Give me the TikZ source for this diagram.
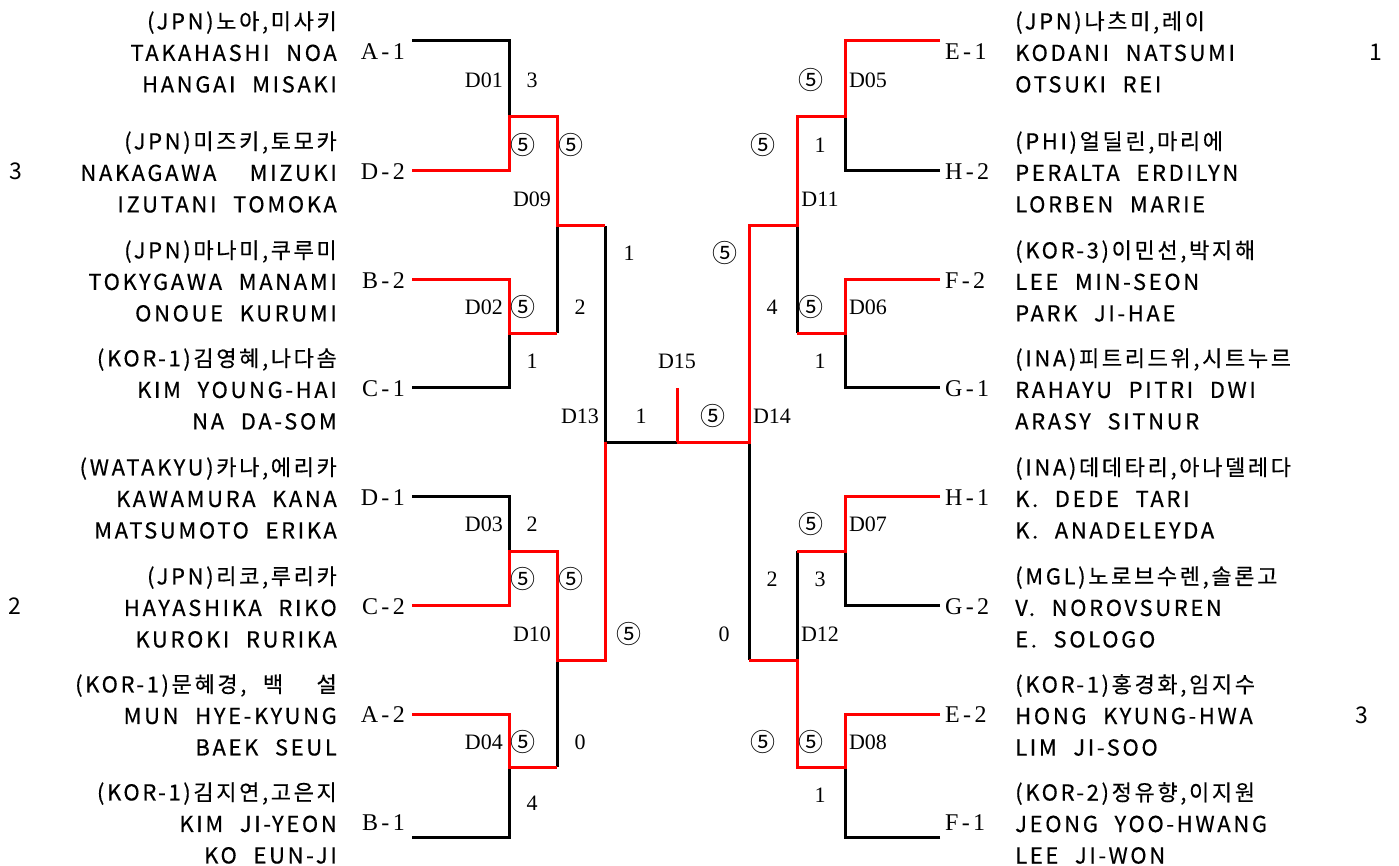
\documentclass[tikz,border=0pt]{standalone}
\usepackage{fontspec}
\usepackage{tikz}
\newfontfamily\krfont[LetterSpace=12,WordSpace=2.2,FakeBold=0.4]{Noto Sans CJK KR}
\newfontfamily\numfont{Noto Sans CJK KR}
\newfontfamily\serfont{Liberation Serif}
\newfontfamily\seedfont[LetterSpace=14]{Liberation Serif}

\begin{document}
\begin{tikzpicture}[x=1pt,y=-1pt,
  win/.style={draw=red,line width=3pt},
  lose/.style={draw=black,line width=3pt},
  team/.style={font=\krfont\fontsize{22}{31.5}\selectfont,inner sep=0pt},
  seed/.style={font=\seedfont\fontsize{24}{24}\selectfont,inner sep=0pt},
  match/.style={font=\serfont\fontsize{22}{22}\selectfont,inner sep=0pt},
  sets/.style={font=\numfont\fontsize{25}{25}\selectfont,inner sep=0pt},
  big/.style={font=\numfont\fontsize{23}{23}\selectfont,inner sep=0pt}]
\useasboundingbox (0,0) rectangle (1399,866);

% left teams
\node [team,anchor=east,align=right] (tA1) at (337,52) {(JPN)노아,미사키\\TAKAHASHI NOA\\HANGAI MISAKI};
\node [team,anchor=east,align=right] (tD2) at (337,172) {(JPN)미즈키,토모카\\NAKAGAWA\ \ MIZUKI\\IZUTANI TOMOKA};
\node [team,anchor=east,align=right] (tB2) at (337,281) {(JPN)마나미,쿠루미\\TOKYGAWA MANAMI\\ONOUE KURUMI};
\node [team,anchor=east,align=right] (tC1) at (337,389) {(KOR-1)김영혜,나다솜\\KIM YOUNG-HAI\\NA DA-SOM};
\node [team,anchor=east,align=right] (tD1) at (337,498) {(WATAKYU)카나,에리카\\KAWAMURA KANA\\MATSUMOTO ERIKA};
\node [team,anchor=east,align=right] (tC2) at (337,607) {(JPN)리코,루리카\\HAYASHIKA RIKO\\KUROKI RURIKA};
\node [team,anchor=east,align=right] (tA2) at (337,715) {(KOR-1)문혜경, 백\ \ 설\\MUN HYE-KYUNG\\BAEK SEUL};
\node [team,anchor=east,align=right] (tB1) at (337,823) {(KOR-1)김지연,고은지\\KIM JI-YEON\\KO EUN-JI};

% right teams
\node [team,anchor=west,align=left] (tE1) at (1015,52) {(JPN)나츠미,레이\\KODANI NATSUMI\\OTSUKI REI};
\node [team,anchor=west,align=left] (tH2) at (1015,172) {(PHI)얼딜린,마리에\\PERALTA ERDILYN\\LORBEN MARIE};
\node [team,anchor=west,align=left] (tF2) at (1015,281) {(KOR-3)이민선,박지해\\LEE MIN-SEON\\PARK JI-HAE};
\node [team,anchor=west,align=left] (tG1) at (1015,389) {(INA)피트리드위,시트누르\\RAHAYU PITRI DWI\\ARASY SITNUR};
\node [team,anchor=west,align=left] (tH1) at (1015,498) {(INA)데데타리,아나델레다\\K. DEDE TARI\\K. ANADELEYDA};
\node [team,anchor=west,align=left] (tG2) at (1015,607) {(MGL)노로브수렌,솔론고\\V. NOROVSUREN\\E. SOLOGO};
\node [team,anchor=west,align=left] (tE2) at (1015,715) {(KOR-1)홍경화,임지수\\HONG KYUNG-HWA\\LIM JI-SOO};
\node [team,anchor=west,align=left] (tF1) at (1015,823) {(KOR-2)정유향,이지원\\JEONG YOO-HWANG\\LEE JI-WON};

% seeds
\node [seed,anchor=east] (sA1) at (405,52) {A-1};
\node [seed,anchor=east] (sD2) at (405,172) {D-2};
\node [seed,anchor=east] (sB2) at (405,281) {B-2};
\node [seed,anchor=east] (sC1) at (405,389) {C-1};
\node [seed,anchor=east] (sD1) at (405,498) {D-1};
\node [seed,anchor=east] (sC2) at (405,607) {C-2};
\node [seed,anchor=east] (sA2) at (405,715) {A-2};
\node [seed,anchor=east] (sB1) at (405,823) {B-1};
\node [seed,anchor=west] (sE1) at (945,52) {E-1};
\node [seed,anchor=west] (sH2) at (945,172) {H-2};
\node [seed,anchor=west] (sF2) at (945,281) {F-2};
\node [seed,anchor=west] (sG1) at (945,389) {G-1};
\node [seed,anchor=west] (sH1) at (945,498) {H-1};
\node [seed,anchor=west] (sG2) at (945,607) {G-2};
\node [seed,anchor=west] (sE2) at (945,715) {E-2};
\node [seed,anchor=west] (sF1) at (945,823) {F-1};

% ranks
\node [big] (rL1) at (16,171) {3};
\node [big] (rL2) at (15,606) {2};
\node [big] (rR1) at (1376,52) {1};
\node [big] (rR2) at (1362,715) {3};

% line ends and joints
\coordinate (a1) at (412,41);  \coordinate (d2) at (412,171);
\coordinate (b2) at (412,280); \coordinate (c1) at (412,387);
\coordinate (d1) at (412,496); \coordinate (c2) at (412,605);
\coordinate (a2) at (412,714); \coordinate (b1) at (412,837);
\coordinate (e1) at (940,41);  \coordinate (h2) at (940,171);
\coordinate (f2) at (940,280); \coordinate (g1) at (940,387);
\coordinate (h1) at (940,496); \coordinate (g2) at (940,605);
\coordinate (e2) at (940,714); \coordinate (f1) at (940,837);
\coordinate (j01) at (509,117); \coordinate (j02) at (509,333);
\coordinate (j03) at (509,551); \coordinate (j04) at (509,767);
\coordinate (j05) at (845,117); \coordinate (j06) at (845,333);
\coordinate (j07) at (845,551); \coordinate (j08) at (845,767);
\coordinate (j09) at (557,226); \coordinate (j10) at (557,660);
\coordinate (j11) at (797,226); \coordinate (j12) at (797,660);
\coordinate (j13) at (605,442); \coordinate (j14) at (749,442);
\coordinate (j15) at (677,442); \coordinate (top) at (677,388);

% losers
\draw [lose] (a1) -| (j01);
\draw [lose] (c1) -| (j02);
\draw [lose] (j09) -- (j09 |- j02);
\draw [lose] (d1) -| (j03);
\draw [lose] (b1) -| (j04);
\draw [lose] (j10) -- (j10 |- j04);
\draw [lose] (j09 -| j13) -- (j13) -- (j15);
\draw [lose] (h2) -| (j05);
\draw [lose] (g1) -| (j06);
\draw [lose] (j11) -- (j11 |- j06);
\draw [lose] (g2) -| (j07);
\draw [lose] (f1) -| (j08);
\draw [lose] (j12) -- (j12 |- j07);
\draw [lose] (j14) -- (j14 |- j10);

% winners
\draw [win] (d2) -| (j01) -| (j09) -- (j09 -| j13);
\draw [win] (b2) -| (j02) -- (j09 |- j02);
\draw [win] (c2) -| (j03) -| (j10) -| (j13);
\draw [win] (a2) -| (j04) -- (j10 |- j04);
\draw [win] (e1) -| (j05) -| (j11) -| (j14) -- (j15);
\draw [win] (f2) -| (j06) -- (j11 |- j06);
\draw [win] (h1) -| (j07) -- (j12 |- j07);
\draw [win] (e2) -| (j08) -| (j12) -- (j14 |- j12);
\draw [win] (top) -- (j15);

% match codes
\node [match,anchor=east] (m01) at (503,80) {D01};
\node [match,anchor=east] (m02) at (503,307) {D02};
\node [match,anchor=east] (m03) at (503,524) {D03};
\node [match,anchor=east] (m04) at (503,742) {D04};
\node [match] (m05) at (868,80) {D05};
\node [match] (m06) at (868,307) {D06};
\node [match] (m07) at (868,524) {D07};
\node [match] (m08) at (868,742) {D08};
\node [match] (m09) at (532,199) {D09};
\node [match] (m10) at (532,634) {D10};
\node [match] (m11) at (820,199) {D11};
\node [match] (m12) at (820,634) {D12};
\node [match] (m13) at (580,416) {D13};
\node [match] (m14) at (772,416) {D14};
\node [match] (m15) at (677,361) {D15};

% set scores
\node [match] (n01a) at (532,80) {3};
\node [sets] (n01b) at (523,145) {⑤};
\node [sets] (n02b) at (523,307) {⑤};
\node [match] (n02c) at (532,361) {1};
\node [sets] (n09a) at (571,145) {⑤};
\node [match] (n09b) at (580,307) {2};
\node [match] (n03a) at (532,524) {2};
\node [sets] (n03b) at (523,579) {⑤};
\node [sets] (n04a) at (523,742) {⑤};
\node [match] (n04b) at (532,803) {4};
\node [sets] (n10a) at (571,579) {⑤};
\node [match] (n10b) at (580,742) {0};
\node [match] (n13a) at (629,253) {1};
\node [sets] (n13b) at (629,634) {⑤};
\node [match] (n15a) at (641,416) {1};
\node [sets] (n15b) at (713,416) {⑤};
\node [sets] (n14a) at (725,253) {⑤};
\node [match] (n14b) at (724,634) {0};
\node [sets] (n05a) at (811,80) {⑤};
\node [match] (n05b) at (820,145) {1};
\node [sets] (n11a) at (763,145) {⑤};
\node [match] (n11b) at (772,307) {4};
\node [sets] (n06a) at (811,307) {⑤};
\node [match] (n06b) at (820,361) {1};
\node [sets] (n07a) at (811,524) {⑤};
\node [match] (n07b) at (820,579) {3};
\node [match] (n12a) at (772,579) {2};
\node [sets] (n12b) at (763,742) {⑤};
\node [sets] (n08a) at (811,742) {⑤};
\node [match] (n08b) at (820,795) {1};
\end{tikzpicture}
\end{document}
